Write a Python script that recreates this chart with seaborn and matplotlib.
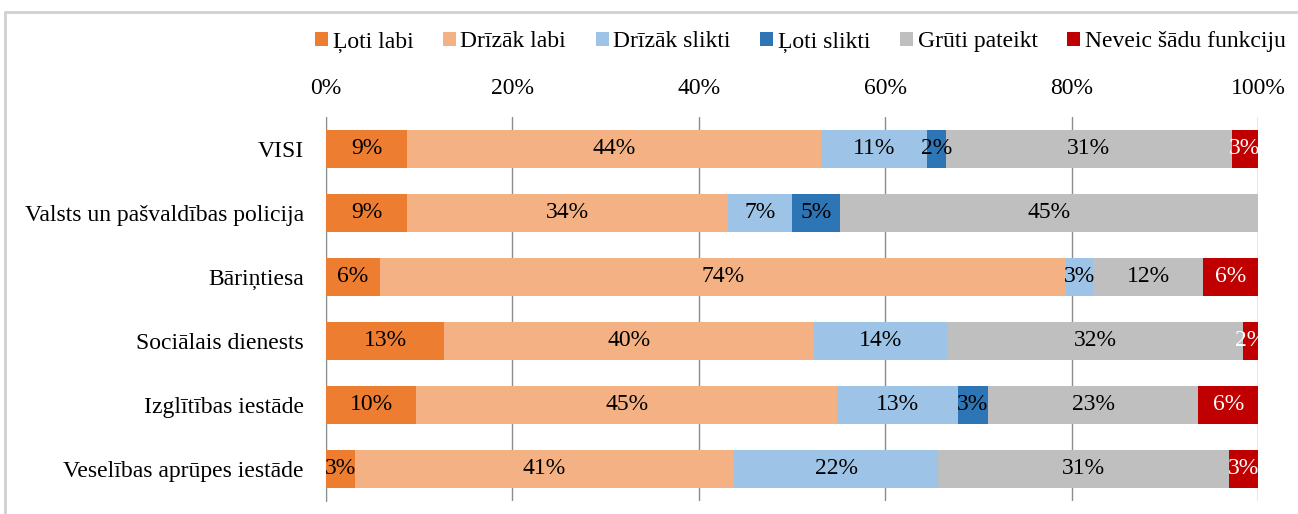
import numpy as np
import pandas as pd
import seaborn as sns
import matplotlib.pyplot as plt
from matplotlib.patches import Patch
from matplotlib.lines import Line2D

# data (percent)
categories = ["VISI", "Valsts un pašvaldības policija", "Bāriņtiesa",
              "Sociālais dienests", "Izglītības iestāde", "Veselības aprūpes iestāde"]
series = ["Ļoti labi", "Drīzāk labi", "Drīzāk slikti", "Ļoti slikti",
          "Grūti pateikt", "Neveic šādu funkciju"]
loti_labi = [8.7, 8.7, 5.8, 12.7, 9.7, 3.1]
drizak_labi = [44.4, 34.4, 73.6, 39.7, 45.1, 40.7]
drizak_slikti = [11.4, 6.9, 2.9, 14.3, 13.0, 21.9]
loti_slikti = [2.0, 5.2, 0.0, 0.0, 3.2, 0.0]
gruti_pateikt = [30.7, 44.8, 11.8, 31.7, 22.6, 31.2]
neveic = [2.8, 0.0, 5.9, 1.6, 6.4, 3.1]
colors = ["#ED7D31", "#F4B183", "#9DC3E6", "#2E75B6", "#BFBFBF", "#C00000"]
ticks = [0, 20, 40, 60, 80, 100]
tick_labels = ["0%", "20%", "40%", "60%", "80%", "100%"]

df = pd.DataFrame(np.array([loti_labi, drizak_labi, drizak_slikti, loti_slikti,
                            gruti_pateikt, neveic]).T, index=categories, columns=series)
cum = df.cumsum(axis=1)

sns.set_style("white")
plt.rcParams["font.family"] = ["Liberation Serif", "DejaVu Serif"]
plt.rcParams["text.color"] = "black"
plt.rcParams["xtick.color"] = "black"
plt.rcParams["ytick.color"] = "black"
fs = 17
plt.rcParams["font.size"] = fs

fig = plt.figure(figsize=(12.98, 5.14), dpi=100)
ax = fig.add_axes([326 / 1298, 1 - 501 / 514, 932 / 1298, 384 / 514])

# draw cumulative bars from the back so each segment shows its own colour
for i in range(len(series) - 1, -1, -1):
    sns.barplot(x=cum[series[i]].values, y=categories, orient="h", order=categories,
                color=colors[i], width=0.6, saturation=1, linewidth=0, ax=ax, zorder=3)

# segment labels
for r, cat in enumerate(categories):
    for i, s in enumerate(series):
        v = df.loc[cat, s]
        if v <= 0:
            continue
        mid = cum.loc[cat, s] - v / 2
        ax.text(mid, r, f"{v:.0f}%", ha="center", va="center", fontsize=fs,
                color="white" if i == 5 else "black", zorder=5)

ax.set_xlim(0, 100)
ax.set_ylim(5.5, -0.5)
ax.xaxis.tick_top()
ax.set_xticks(ticks)
ax.set_xticklabels(tick_labels)
ax.tick_params(axis="x", length=0, pad=13, labelsize=fs)
ax.tick_params(axis="y", which="major", length=0, pad=16, labelsize=fs)
ax.set_yticks(np.arange(-0.5, 6, 1), minor=True)
ax.tick_params(axis="y", which="minor", length=6, color="#8C8C8C", width=1)
ax.set_xlabel("")
ax.set_ylabel("")
ax.grid(axis="x", color="#8C8C8C", linewidth=1, zorder=0)
ax.set_axisbelow(True)
for side in ["top", "right", "bottom"]:
    ax.spines[side].set_visible(False)
ax.spines["left"].set_color("#8C8C8C")

handles = [Patch(facecolor=c, edgecolor="none") for c in colors]
fig.legend(handles, series, loc="center right", bbox_to_anchor=(1286 / 1298, 1 - 42 / 514),
           ncol=6, frameon=False, handlelength=0.55, handleheight=0.55, handletextpad=0.2,
           columnspacing=1.25, fontsize=fs, borderaxespad=0, borderpad=0)

# chart area border (top/left visible in the cropped reference)
fig.add_artist(Line2D([5 / 1298, 1], [1 - 12 / 514, 1 - 12 / 514], color="#D0D0D0", lw=2))
fig.add_artist(Line2D([5 / 1298, 5 / 1298], [0, 1 - 12 / 514], color="#D0D0D0", lw=2))

plt.savefig("out.png", dpi=100)
